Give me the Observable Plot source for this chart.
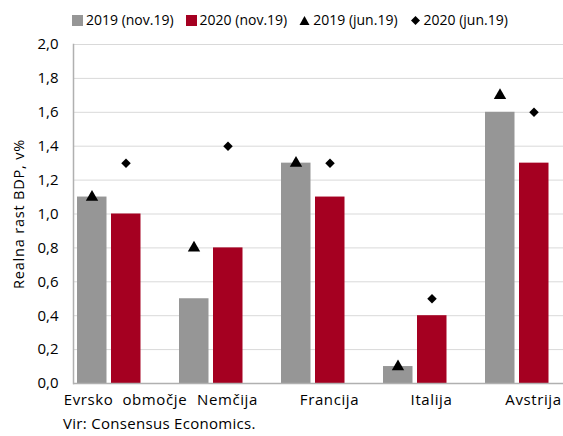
<!DOCTYPE html>
<html><head><meta charset="utf-8">
<script src="https://cdn.jsdelivr.net/npm/d3@7"></script>
<script src="https://cdn.jsdelivr.net/npm/@observablehq/plot@0.6"></script>
<style>
body{margin:0;overflow:hidden;background:#fff;font-family:"Open Sans",sans-serif;color:#000;}
#wrap{position:relative;width:563px;height:436px;overflow:hidden;}
#legend{position:absolute;top:10px;left:72px;font-size:14px;display:flex;white-space:nowrap;line-height:20px;}
#legend .item{display:flex;align-items:center;margin-right:12px;}
#legend svg{margin-right:3px;}
#caption{position:absolute;left:63px;top:414px;font-size:15px;line-height:18px;letter-spacing:0.3px;}
</style></head>
<body><div id="wrap"><div id="legend"></div><div id="caption">Vir: Consensus Economics.</div></div>
<script>
const categories = ["Evrsko\u00a0 območje","Nemčija","Francija","Italija","Avstrija"];
const nov2019 = [1.1,0.5,1.3,0.1,1.6];
const nov2020 = [1.0,0.8,1.1,0.4,1.3];
const jun2019 = [1.1,0.8,1.3,0.1,1.7];
const jun2020 = [1.3,1.4,1.3,0.5,1.6];
const yTicks = [0,0.2,0.4,0.6,0.8,1.0,1.2,1.4,1.6,1.8,2.0];
const seriesNames = ["2019 (nov.19)","2020 (nov.19)","2019 (jun.19)","2020 (jun.19)"];
const gray = "#969696", red = "#a50021";

const data = categories.map((c,i)=>({cat:c, a:nov2019[i], b:nov2020[i], c:jun2019[i], d:jun2020[i]}));
const fmt = d => d3.format(".1f")(d).replace(".", ",");

const chart = Plot.plot({
  width:563, height:436,
  marginLeft:73, marginRight:0, marginTop:44, marginBottom:53,
  style:{fontFamily:"Open Sans, sans-serif", fontSize:"15px", overflow:"hidden", background:"transparent"},
  x:{domain:categories, range:[73,585.5], padding:0},
  y:{domain:[0,2], range:[383,44]},
  marks:[
    Plot.ruleY(yTicks, {stroke:"#d9d9d9", strokeWidth:1}),
    Plot.barY(data, {x:"cat", y:"a", fill:gray, insetLeft:3, insetRight:69.5}),
    Plot.barY(data, {x:"cat", y:"b", fill:red, insetLeft:37, insetRight:35.5}),
    Plot.ruleY([0], {stroke:"#b0b0b0", strokeWidth:1.5}),
    Plot.frame({anchor:"left", stroke:"#b0b0b0", strokeWidth:1.5}),
    Plot.dot(data, {x:"cat", y:"c", symbol:"triangle", r:4.6, fill:"#000", stroke:null, dx:-33.5}),
    Plot.dot(data, {x:"cat", y:"d", symbol:"diamond2", r:4.3, fill:"#000", stroke:null, dx:0.5}),
    Plot.axisY(yTicks, {tickSize:0, tickPadding:15, tickFormat:fmt, fontSize:15, label:"Realna rast BDP, v%", labelAnchor:"center", labelOffset:60, labelArrow:"none"}),
    Plot.axisX({tickSize:0, tickPadding:11, fontSize:15, label:null})
  ]
});
const wrap = document.getElementById("wrap");
wrap.insertBefore(chart, wrap.firstChild);
chart.style.position="absolute"; chart.style.left="0"; chart.style.top="0";
chart.querySelectorAll("text").forEach(t=>{ if(t.textContent.startsWith("Realna")) { t.setAttribute("font-size","14.5"); t.setAttribute("letter-spacing","0.8"); } });
chart.querySelectorAll("g[aria-label='x-axis tick label'] text").forEach(t=>t.setAttribute("letter-spacing","0.6"));

const legend = document.getElementById("legend");
const sym = [
  `<svg width="11" height="11"><rect width="11" height="11" fill="${gray}"/></svg>`,
  `<svg width="11" height="11"><rect width="11" height="11" fill="${red}"/></svg>`,
  `<svg width="11" height="11"><path d="M5.5 1 L10.5 10 L0.5 10Z" fill="#000"/></svg>`,
  `<svg width="11" height="11"><path d="M5.5 1 L10 5.5 L5.5 10 L1 5.5Z" fill="#000"/></svg>`
];
seriesNames.forEach((n,i)=>{
  const d=document.createElement("div"); d.className="item";
  d.innerHTML = sym[i] + `<span>${n}</span>`;
  legend.appendChild(d);
});
</script></body></html>
